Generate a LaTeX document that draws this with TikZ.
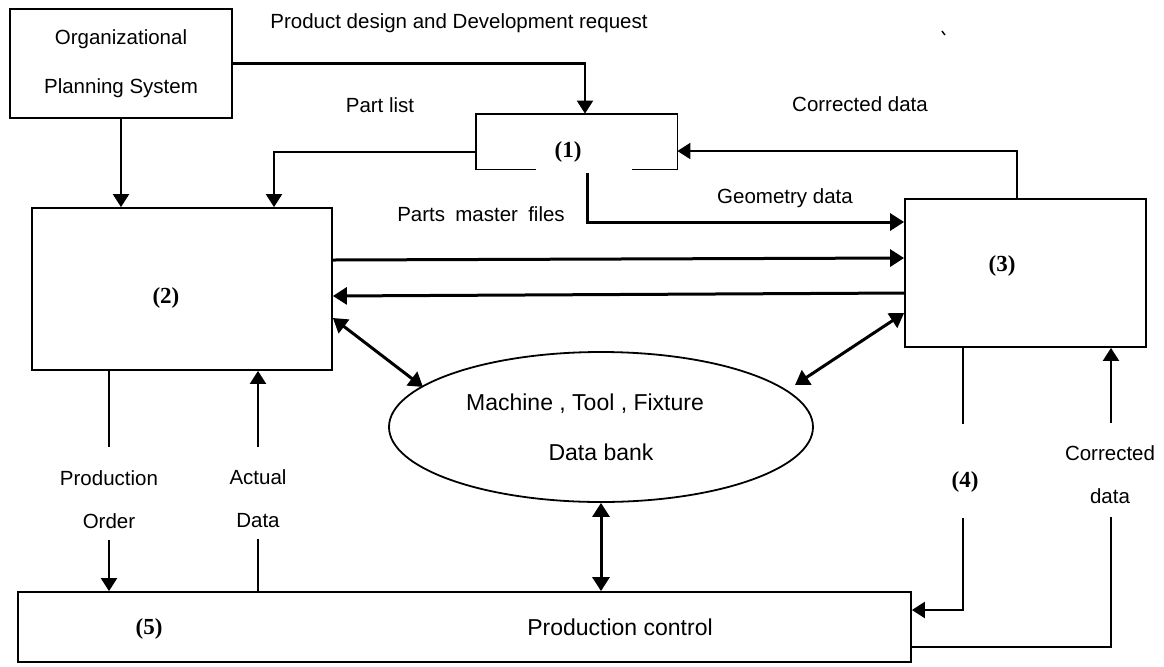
\documentclass[tikz,border=0pt]{standalone}
\usepackage{fontspec}
\setmainfont{Liberation Sans}
\newfontfamily\numfont{Liberation Serif}
\usetikzlibrary{arrows.meta,shapes.geometric,calc}
\tikzset{
  boxline/.style={line width=0.9pt},
  box/.style={draw, boxline, inner sep=0pt},
  lbl/.style={font=\fontsize{10.25pt}{12pt}\selectfont, inner sep=0pt},
  two/.style={align=center, font=\fontsize{10.25pt}{21.5pt}\selectfont, inner sep=0pt},
  big/.style={font=\fontsize{11.5pt}{13pt}\selectfont, inner sep=0pt},
  num/.style={font=\numfont\bfseries\fontsize{11.5pt}{13pt}\selectfont, inner sep=0pt},
  conn/.style={line width=0.9pt},
  arr/.style={line width=1.1pt, -{Triangle[length=6.5pt,width=8pt]}},
  thk/.style={line width=1.5pt, -{Triangle[length=7pt,width=8.5pt]}},
  dbl/.style={line width=1.5pt, {Triangle[length=7pt,width=8.5pt]}-{Triangle[length=7pt,width=8.5pt]}}
}
\begin{document}
\begin{tikzpicture}[x=0.5pt,y=-0.5pt]
\fill[white] (0,0) rectangle (1164,666);
% boxes
\node[box, minimum width=111pt, minimum height=54.5pt, align=center,
      font=\fontsize{10.25pt}{24.5pt}\selectfont] (org) at (121,63.5) {Organizational\\Planning System};
\node[minimum width=100.5pt, minimum height=27.5pt, inner sep=0pt] (b1) at (576.5,141.5) {};
\draw[boxline] ($(b1.south west)+(60,0)$) -- (b1.south west) -- (b1.north west) -- (b1.north east) -- (b1.south east) -- ($(b1.south east)+(-45,0)$);
\node[num] (l1) at (568,152) {(1)};
\node[box, minimum width=150pt, minimum height=81pt] (b2) at (182,289) {};
\node[num] (l2) at (166,298) {(2)};
\node[box, minimum width=120.5pt, minimum height=74pt] (b3) at (1025.5,273) {};
\node[num] (l3) at (1002,266) {(3)};
\node[draw, ellipse, boxline, minimum width=212pt, minimum height=75pt, inner sep=0pt, align=center,
      font=\fontsize{11.5pt}{25pt}\selectfont] (ell) at (601,427) {Machine , Tool , Fixture\hspace*{16pt}\\Data bank};
\node[box, minimum width=446.5pt, minimum height=35pt] (b5) at (464.5,627) {};
\node[num] (l5) at (149,629) {(5)};
\node[big] (pc) at (620,627) {Production control};
\node[num] (l4) at (965,482) {(4)};
% labels
\node[lbl] (tpd) at (459,23) {Product design and Development request};
\node[lbl] (tpl) at (380,105) {Part list};
\node[lbl] (tcd) at (860,104) {Corrected data};
\node[lbl] (tgd) at (785,198) {Geometry data};
\node[lbl] (tpm) at (481,214) {Parts\enspace master\enspace files};
\node[two] (tpo) at (109,499.5) {Production\\Order};
\node[two] (tad) at (258,498.5) {Actual\\Data};
\node[two] (tcr) at (1110,475) {Corrected\\data};
% gap coordinates
\coordinate (po1) at (109,447);
\coordinate (po2) at (109,540);
\coordinate (ad1) at (258,447);
\coordinate (ad2) at (258,539);
\coordinate (c41) at (963,424);
\coordinate (c42) at (963,518);
\coordinate (cd1) at (1111,423);
\coordinate (cd2) at (1111,517);
% connectors
\draw[arr] (org.east) -| ($(b1.north)+(8.5,0)$);
\draw[arr] (org.south) -- (org.south |- b2.north);
\draw[arr] ($(b1.west)+(0,10.5)$) -| ($(b2.north)+(92,0)$);
\draw[thk] ($(b1.south)+(10.5,4)$) |- ($(b3.west)+(0,-51)$);
\draw[thk] ($(b2.east)+(0,-29)$) -- ($(b3.west)+(0,-15)$);
\draw[thk] ($(b3.west)+(0,20)$) -- ($(b2.east)+(0,7)$);
\draw[dbl] ($(b2.east)+(0,29)$) -- ($(ell.center)+(-178,-40)$);
\draw[dbl] ($(b3.west)+(0,40)$) -- ($(ell.center)+(194,-42)$);
\draw[dbl] (ell.south) -- (ell.south |- b5.north);
\draw[arr] ($(b3.north)+(-8.5,0)$) |- ($(b1.east)+(0,9.5)$);
\draw[conn] (b2.south -| po1) -- (po1);
\draw[arr] (po2) -- (po2 |- b5.north);
\draw[arr] (ad1) -- (ad1 |- b2.south);
\draw[conn] (b5.north -| ad2) -- (ad2);
\draw[conn] (b3.south -| c41) -- (c41);
\draw[arr] (c42) |- ($(b5.east)+(0,-17)$);
\draw[arr] (cd1) -- (cd1 |- b3.south);
\draw[conn] ($(b5.east)+(0,20)$) -| (cd2);
% stray tick
\draw[line width=0.7pt] (942,31) -- (945,35);
\end{tikzpicture}
\end{document}
